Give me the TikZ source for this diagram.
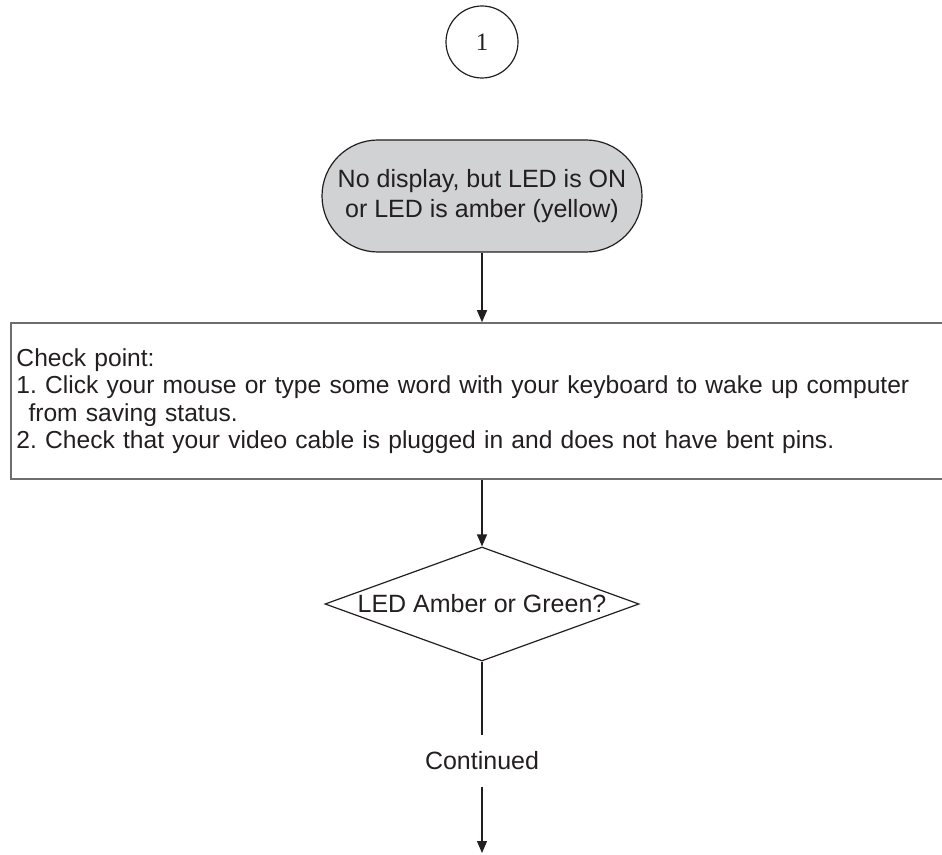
\documentclass[tikz,border=0pt]{standalone}
\usepackage{fontspec}
\setmainfont{Liberation Sans}
\newfontfamily\numfont{Liberation Serif}
\usetikzlibrary{arrows.meta,shapes.geometric}
\definecolor{ink}{HTML}{231F20}
\definecolor{frame}{HTML}{6D6E71}
\definecolor{termfill}{HTML}{D1D2D4}
\newcommand{\chartfont}{\fontsize{12.5}{13.75}\selectfont}
\frenchspacing
\tikzset{
 every node/.append style={font=\chartfont,text=ink},
 pageref/.style={circle,draw=ink,line width=.6pt,minimum size=36pt,inner sep=0pt,font=\numfont\fontsize{12.5}{14}\selectfont},
 terminal/.style={rectangle,rounded corners=28pt,draw=ink,fill=termfill,line width=.6pt,minimum width=160pt,minimum height=56pt,inner sep=0pt,align=center,font=\fontsize{12.5}{15}\selectfont},
 checkbox/.style={rectangle,draw=frame,line width=.8pt,text width=462pt,inner xsep=2.75pt,minimum height=78pt,align=left,font=\fontsize{12.3}{13.75}\selectfont},
 decision/.style={diamond,draw=ink,line width=.6pt,minimum width=157pt,minimum height=57pt,inner sep=0pt},
 word/.style={inner xsep=2pt,inner ysep=8pt},
 flow/.style={-{Triangle[length=6pt,width=5pt]},draw=ink,line width=.6pt},
 route/.style={draw=ink,line width=.6pt},
}
\begin{document}
\begin{tikzpicture}[x=0.5pt,y=-0.5pt]

\useasboundingbox (0,0) rectangle (942,855);
\node[pageref] (pg) at (482,42) {1};
\node[terminal] (start) at (482,196) {No display, but LED is ON\\or LED is amber (yellow)};
\node[checkbox] (check) at (478.5,401) {Check point:\\1. Click your mouse or type some word with your keyboard to wake up computer\\\hspace*{6pt}from saving status.\\2. Check that your video cable is plugged in and does not have bent pins.};
\node[decision,label=center:{LED Amber or Green?}] (ledq) at (482,604) {};
\node[word] (cont) at (482,761) {Continued};
\coordinate (contend) at (482,853);
\draw[flow] (start.south) -- (start.south |- check.north);
\draw[flow] (ledq.north |- check.south) -- (ledq.north);
\draw[route] (ledq.south) -- (cont.north);
\draw[flow] (cont.south) -- (contend);

\end{tikzpicture}
\end{document}
